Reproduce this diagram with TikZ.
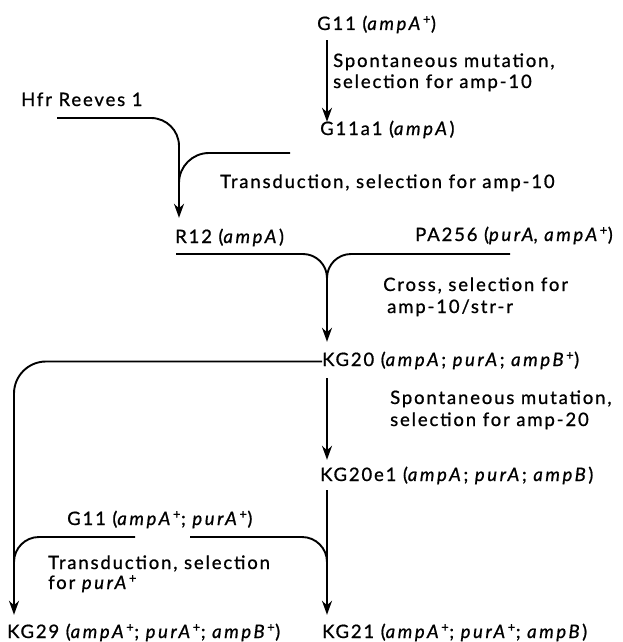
\documentclass[tikz,border=0pt]{standalone}
\usepackage{fontspec}
\setmainfont{Lato}[LetterSpace=10, FakeBold=0.9, ItalicFeatures={LetterSpace=14}]
\usetikzlibrary{arrows.meta}

% gene symbols are set in italics, wild-type alleles get a raised plus
\newcommand\Gene[1]{\textit{#1}}
\newcommand\Wt{\textsuperscript{+}}

\tikzset{
  lbl/.style={anchor=base west, inner sep=0pt, text height=13pt, text depth=4pt,
              font=\fontsize{18.5}{22}\selectfont},
  link/.style={line width=1.9pt, line cap=butt},
  arr/.style={link, -{Stealth[length=14pt,width=10pt,inset=4.5pt]}}
}

\begin{document}
\begin{tikzpicture}[x=1pt,y=-1pt]
\path[use as bounding box] (0,0) rectangle (623,642);

% columns the vertical connectors run in
\coordinate (colL) at (14,0);
\coordinate (colA) at (179,0);
\coordinate (colB) at (327,0);

% strains
\node[lbl] (g11)    at (317,30)  {G11 (\Gene{ampA}\Wt)};
\node[lbl] (hfr)    at (21,106)  {Hfr Reeves 1};
\node[lbl] (g11a1)  at (320,135) {G11a1 (\Gene{ampA})};
\node[lbl] (r12)    at (175,243) {R12 (\Gene{ampA})};
\node[lbl] (pa256)  at (415,241) {PA256 (\Gene{purA}, \Gene{ampA}\Wt)};
\node[lbl] (kg20)   at (322,366) {KG20 (\Gene{ampA}; \Gene{purA}; \Gene{ampB}\Wt)};
\node[lbl] (kg20e1) at (320,481) {KG20e1 (\Gene{ampA}; \Gene{purA}; \Gene{ampB})};
\node[lbl] (g11b)   at (67,525)  {G11 (\Gene{ampA}\Wt; \Gene{purA}\Wt)};
\node[lbl] (kg29)   at (7,638)   {KG29 (\Gene{ampA}\Wt; \Gene{purA}\Wt; \Gene{ampB}\Wt)};
\node[lbl] (kg21)   at (322,638) {KG21 (\Gene{ampA}\Wt; \Gene{purA}\Wt; \Gene{ampB})};

% steps
\node[lbl] (sp1a) at (333,67)  {Spontaneous mutation,};
\node[lbl] (sp1b) at (333,88)  {selection for amp-10};
\node[lbl] (td1)  at (220,188) {Transduction, selection for amp-10};
\node[lbl] (cr1)  at (383,291) {Cross, selection for};
\node[lbl] (cr2)  at (387,313) {amp-10/str-r};
\node[lbl] (sp2a) at (390,404) {Spontaneous mutation,};
\node[lbl] (sp2b) at (390,426) {selection for amp-20};
\node[lbl] (td2a) at (48,569)  {Transduction, selection};
\node[lbl] (td2b) at (48,589)  {for \Gene{purA}\Wt};

% free ends of the merging lines
\coordinate (hfrEnd) at (57,118);
\coordinate (tdEnd)  at (290,153);
\coordinate (rEnd)   at (176,254);
\coordinate (pEnd)   at (510,254);
\coordinate (gL)     at (135,537);
\coordinate (gR)     at (190,537);

% G11 -> G11a1
\draw[arr, shorten <=6pt] (g11.south -| colB) -- (g11a1.north -| colB);

% transduction into Hfr Reeves 1 -> R12
\draw[arr, rounded corners=28pt, shorten >=12pt]
  (hfrEnd) -- (hfrEnd -| colA) -- (r12.north -| colA);
\draw[link, rounded corners=30pt] (tdEnd) -- (tdEnd -| colA) -- ++(0,45);

% cross R12 x PA256 -> KG20
\draw[arr, rounded corners=24pt, shorten >=11pt]
  (rEnd) -- (rEnd -| colB) -- (kg20.north -| colB);
\draw[link, rounded corners=24pt] (pEnd) -- (pEnd -| colB) -- ++(0,40);

% KG20 -> KG29
\draw[arr, rounded corners=32pt, shorten >=10pt]
  (kg20.west) -- (colL |- kg20.west) -- (kg29.north -| colL);

% KG20 -> KG20e1 -> KG21
\draw[arr, shorten <=8pt, shorten >=8pt] (kg20.south -| colB) -- (kg20e1.north -| colB);
\draw[arr, shorten <=5pt, shorten >=10pt] (kg20e1.south -| colB) -- (kg21.north -| colB);

% transduction from G11 into both lines
\draw[link, rounded corners=25pt] (gL) -- (gL -| colL) -- ++(0,45);
\draw[link, rounded corners=25pt] (gR) -- (gR -| colB) -- ++(0,45);
\end{tikzpicture}
\end{document}
